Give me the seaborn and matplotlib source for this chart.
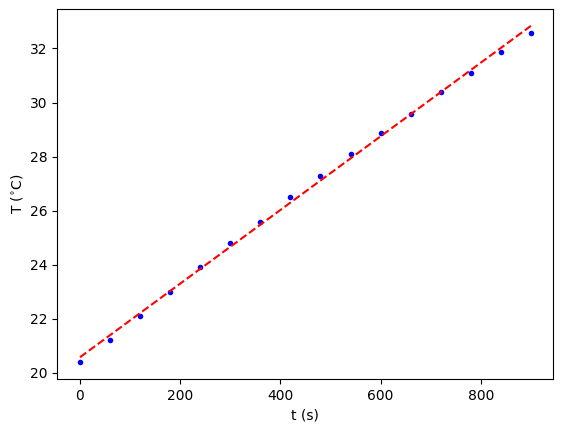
import numpy as np
import pandas as pd
import matplotlib
matplotlib.use('Agg')
import matplotlib.pyplot as plt
import seaborn as sns

# measured temperatures every 60 s
t = [0, 60, 120, 180, 240, 300, 360, 420, 480, 540, 600, 660, 720, 780, 840, 900]
T = [20.40, 21.21, 22.10, 22.99, 23.91, 24.80, 25.59, 26.52,
     27.30, 28.10, 28.88, 29.58, 30.40, 31.10, 31.88, 32.58]

data = pd.DataFrame({'t': t, 'T': T})

# linear fit
coef = np.polyfit(data['t'], data['T'], 1)
data['fit'] = np.polyval(coef, data['t'])

fig, ax = plt.subplots(figsize=(5.63, 4.32), dpi=100)
fig.subplots_adjust(left=0.102, right=0.983, top=0.979, bottom=0.1227)

sns.scatterplot(data=data, x='t', y='T', color='blue', s=16, linewidth=0, ax=ax)
sns.lineplot(data=data, x='t', y='fit', color='red', linestyle='--', linewidth=1.5, ax=ax)

ax.set_xlabel('t (s)')
ax.set_ylabel('T ($^{\\circ}$C)')

plt.savefig('out.png', dpi=100)
